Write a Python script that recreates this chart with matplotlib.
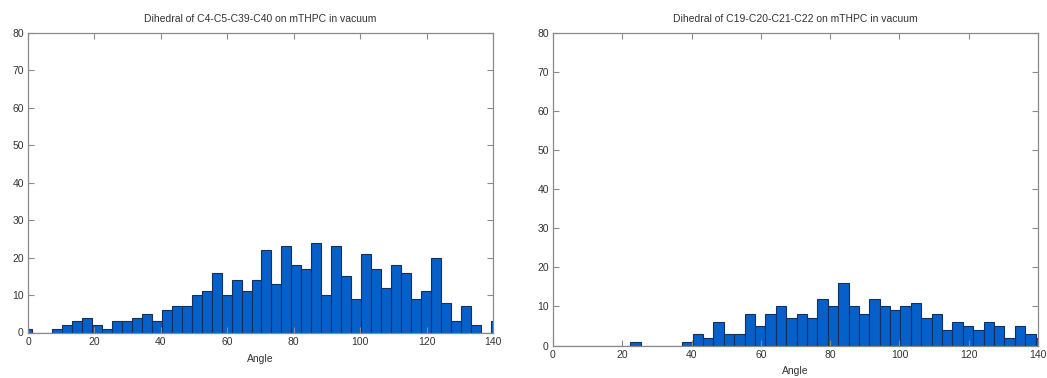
import numpy as np
import matplotlib
matplotlib.use("Agg")
import matplotlib.pyplot as plt

plt.rcParams['font.family'] = ['Liberation Sans', 'DejaVu Sans']

# Histogram data: bins of width 3 degrees, first bin starting at -1.7
bin_start = -1.7
bin_width = 3.0

left_title = "Dihedral of C4-C5-C39-C40 on mTHPC in vacuum"
left_counts = [1, 0, 0, 1, 2, 3, 4, 2, 1, 3, 3, 4, 5, 3, 6, 7, 7, 10, 11, 16,
               10, 14, 11, 14, 22, 13, 23, 18, 17, 24, 10, 23, 15, 9, 21, 17,
               12, 18, 16, 9, 11, 20, 8, 3, 7, 2, 0, 3]

right_title = "Dihedral of C19-C20-C21-C22 on mTHPC in vacuum"
right_counts = [0, 0, 0, 0, 0, 0, 0, 0, 1, 0, 0, 0, 0, 1, 3, 2, 6, 3, 3, 8,
                5, 8, 10, 7, 8, 7, 12, 10, 16, 10, 8, 12, 10, 9, 10, 11, 7, 8,
                4, 6, 5, 4, 6, 5, 2, 5, 3, 2]

x_label = "Angle"
x_ticks = [0, 20, 40, 60, 80, 100, 120, 140]
y_ticks = [0, 10, 20, 30, 40, 50, 60, 70, 80]

W, H = 1047, 378
fig = plt.figure(figsize=(W / 100, H / 100), dpi=100)

bar_color = '#0560CA'
edge_color = '#16305E'
frame_color = '#8a8a8a'
text_color = '#333333'


def draw(rect, counts, title, labelpad):
    ax = fig.add_axes(rect)
    counts = np.asarray(counts)
    edges = bin_start + bin_width * np.arange(len(counts))
    ax.bar(edges, counts, width=bin_width, align='edge', color=bar_color,
           edgecolor=edge_color, linewidth=0.8)
    ax.set_xlim(0, 140)
    ax.set_ylim(0, 80)
    ax.set_xticks(x_ticks)
    ax.set_yticks(y_ticks)
    ax.tick_params(direction='in', length=4, width=0.8, colors=frame_color,
                   labelcolor=text_color, labelsize=7.5, top=True, right=True,
                   pad=3)
    for s in ax.spines.values():
        s.set_color(frame_color)
        s.set_linewidth(0.9)
    ax.set_title(title, fontsize=7.5, color=text_color, pad=8)
    ax.set_xlabel(x_label, fontsize=7.5, color=text_color, labelpad=labelpad)
    return ax


draw([28 / W, 1 - 332.5 / H, 465 / W, 299.5 / H], left_counts, left_title, 5)
draw([553 / W, 1 - 345.5 / H, 485 / W, 312.5 / H], right_counts, right_title, 4.5)

fig.savefig("out.png", dpi=100, facecolor='white')
